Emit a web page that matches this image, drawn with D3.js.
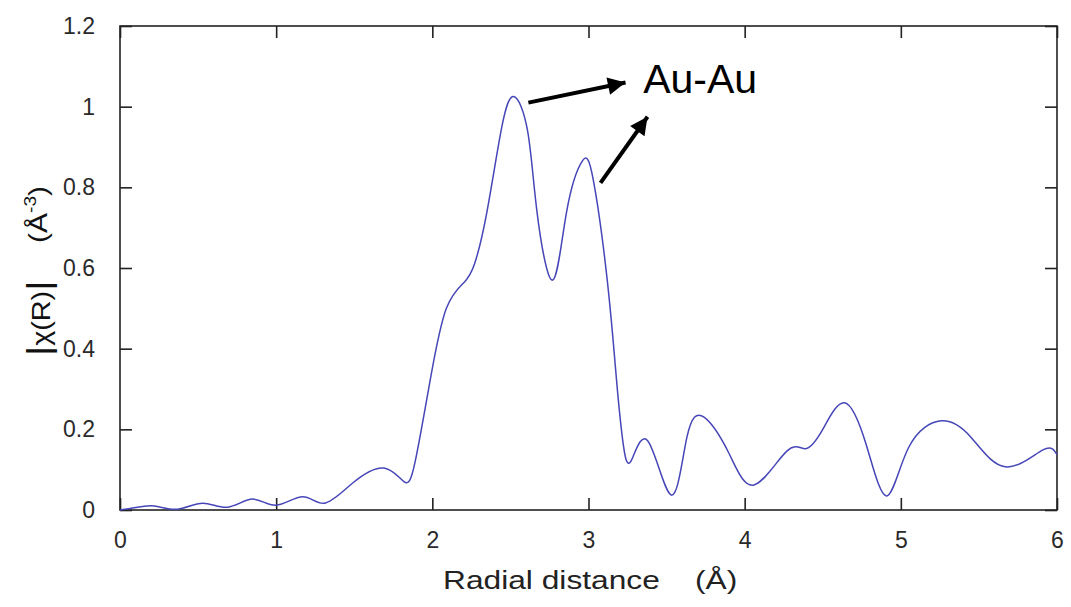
<!DOCTYPE html>
<html>
<head>
<meta charset="utf-8">
<script src="https://cdn.jsdelivr.net/npm/d3@7"></script>
<style>
  html, body { margin: 0; padding: 0; background: #fff; }
  svg { display: block; }
  text { font-family: Arial, "Liberation Sans", sans-serif; }
</style>
</head>
<body>
<svg id="chart" width="1071" height="607"></svg>
<script>
// ---- data ----
const radialDistance = [0, 0.1, 0.22, 0.37, 0.53, 0.69, 0.85, 1.0, 1.17, 1.31, 1.49, 1.69, 1.82, 1.89, 1.99, 2.09, 2.2, 2.27, 2.35, 2.44, 2.52, 2.61, 2.67, 2.77, 2.86, 2.96, 3.03, 3.12, 3.18, 3.22, 3.27, 3.38, 3.53, 3.63, 3.74, 3.9, 4.06, 4.27, 4.39, 4.5, 4.64, 4.78, 4.91, 5.05, 5.26, 5.45, 5.67, 5.91, 6.0];
const chiMagnitude = [0, 0.006, 0.01, 0.002, 0.017, 0.007, 0.027, 0.012, 0.033, 0.017, 0.067, 0.104, 0.07, 0.12, 0.33, 0.5, 0.563, 0.61, 0.74, 0.94, 1.025, 0.94, 0.74, 0.57, 0.74, 0.865, 0.82, 0.57, 0.32, 0.17, 0.12, 0.171, 0.037, 0.18, 0.23, 0.14, 0.062, 0.146, 0.152, 0.2, 0.266, 0.16, 0.035, 0.155, 0.221, 0.18, 0.107, 0.149, 0.137];
const xTicks = [0, 1, 2, 3, 4, 5, 6];
const yTicks = [0, 0.2, 0.4, 0.6, 0.8, 1, 1.2];
const xTickLabels = ["0", "1", "2", "3", "4", "5", "6"];
const yTickLabels = ["0", "0.2", "0.4", "0.6", "0.8", "1", "1.2"];
const annotationLabel = "Au-Au";
// arrows in data units: [x, y] start and tip
const arrowFrom = [[2.615, 1.010], [3.077, 0.811]];
const arrowTo = [[3.237, 1.060], [3.378, 0.975]];
const labelAnchor = [3.35, 1.035];

(function () {
  const svg = d3.select("#chart");
  const pL = 120, pR = 1057, pT = 26, pB = 510;
  const x = d3.scaleLinear().domain([0, 6]).range([pL, pR]);
  const y = d3.scaleLinear().domain([0, 1.2]).range([pB, pT]);
  const tickLen = 12;
  const axisColor = "#222";

  svg.append("rect")
    .attr("x", pL).attr("y", pT)
    .attr("width", pR - pL).attr("height", pB - pT)
    .attr("fill", "none").attr("stroke", axisColor).attr("stroke-width", 1.6);

  const xAxisB = d3.axisBottom(x).tickValues(xTicks).tickFormat((d, i) => xTickLabels[i]).tickSizeInner(-tickLen).tickSizeOuter(0).tickPadding(tickLen + 10);
  const xAxisT = d3.axisTop(x).tickValues(xTicks).tickFormat("").tickSizeInner(-tickLen).tickSizeOuter(0);
  const yAxisL = d3.axisLeft(y).tickValues(yTicks).tickFormat((d, i) => yTickLabels[i]).tickSizeInner(-tickLen).tickSizeOuter(0).tickPadding(tickLen + 13);
  const yAxisR = d3.axisRight(y).tickValues(yTicks).tickFormat("").tickSizeInner(-tickLen).tickSizeOuter(0);

  function style(g) {
    g.select(".domain").remove();
    g.selectAll(".tick line").attr("stroke", axisColor).attr("stroke-width", 1.6);
    g.selectAll(".tick text").attr("fill", "#2a2a2a").style("font-size", "23px").style("font-family", 'Arial, "Liberation Sans", sans-serif');
  }
  svg.append("g").attr("transform", `translate(0,${pB})`).call(xAxisB).call(style);
  svg.append("g").attr("transform", `translate(0,${pT})`).call(xAxisT).call(style);
  svg.append("g").attr("transform", `translate(${pL},0)`).call(yAxisL).call(style);
  svg.append("g").attr("transform", `translate(${pR},0)`).call(yAxisR).call(style);

  const pts = radialDistance.map((d, i) => [d, chiMagnitude[i]]);
  const line = d3.line().x(d => x(d[0])).y(d => y(d[1])).curve(d3.curveNatural);
  svg.append("path").datum(pts)
    .attr("d", line)
    .attr("fill", "none")
    .attr("stroke", "#4646b8")
    .attr("stroke-width", 1.5);

  const defs = svg.append("defs");
  defs.append("marker").attr("id", "ah")
    .attr("viewBox", "0 0 10 10").attr("refX", 10).attr("refY", 5)
    .attr("markerWidth", 5).attr("markerHeight", 4.4).attr("markerUnits", "strokeWidth")
    .attr("orient", "auto")
    .append("path").attr("d", "M0,0 L10,5 L0,10 Z").attr("fill", "#000");
  arrowFrom.forEach((f, i) => {
    const t = arrowTo[i];
    svg.append("line")
      .attr("x1", x(f[0])).attr("y1", y(f[1]))
      .attr("x2", x(t[0])).attr("y2", y(t[1]))
      .attr("stroke", "#000").attr("stroke-width", 4)
      .attr("marker-end", "url(#ah)");
  });
  svg.append("text")
    .attr("x", x(labelAnchor[0])).attr("y", y(labelAnchor[1]))
    .attr("fill", "#000").style("font-size", "41px")
    .text(annotationLabel);

  // x title
  const xt = svg.append("text").attr("transform", "translate(443,589) scale(1.22,1)")
    .attr("fill", "#222").style("font-size", "26px");
  xt.append("tspan").attr("x", 0).text("Radial distance");
  xt.append("tspan").attr("x", (695 - 443) / 1.22).text("(Å)");

  // y title (rotated, reading bottom to top)
  const yt1 = svg.append("text")
    .attr("transform", "translate(50,356) rotate(-90) scale(1.15,1)")
    .attr("fill", "#111").style("font-size", "25px");
  yt1.append("tspan").style("font-size", "34px").text("|");
  yt1.append("tspan").text("χ(R)");
  yt1.append("tspan").style("font-size", "34px").text("|");
  const yt2 = svg.append("text")
    .attr("transform", "translate(47,243) rotate(-90) scale(1.2,1)")
    .attr("fill", "#111").style("font-size", "25px");
  yt2.append("tspan").text("(Å");
  yt2.append("tspan").attr("dy", -11).style("font-size", "16px").text("-3");
  yt2.append("tspan").attr("dy", 11).text(")");
})();
</script>
</body>
</html>
